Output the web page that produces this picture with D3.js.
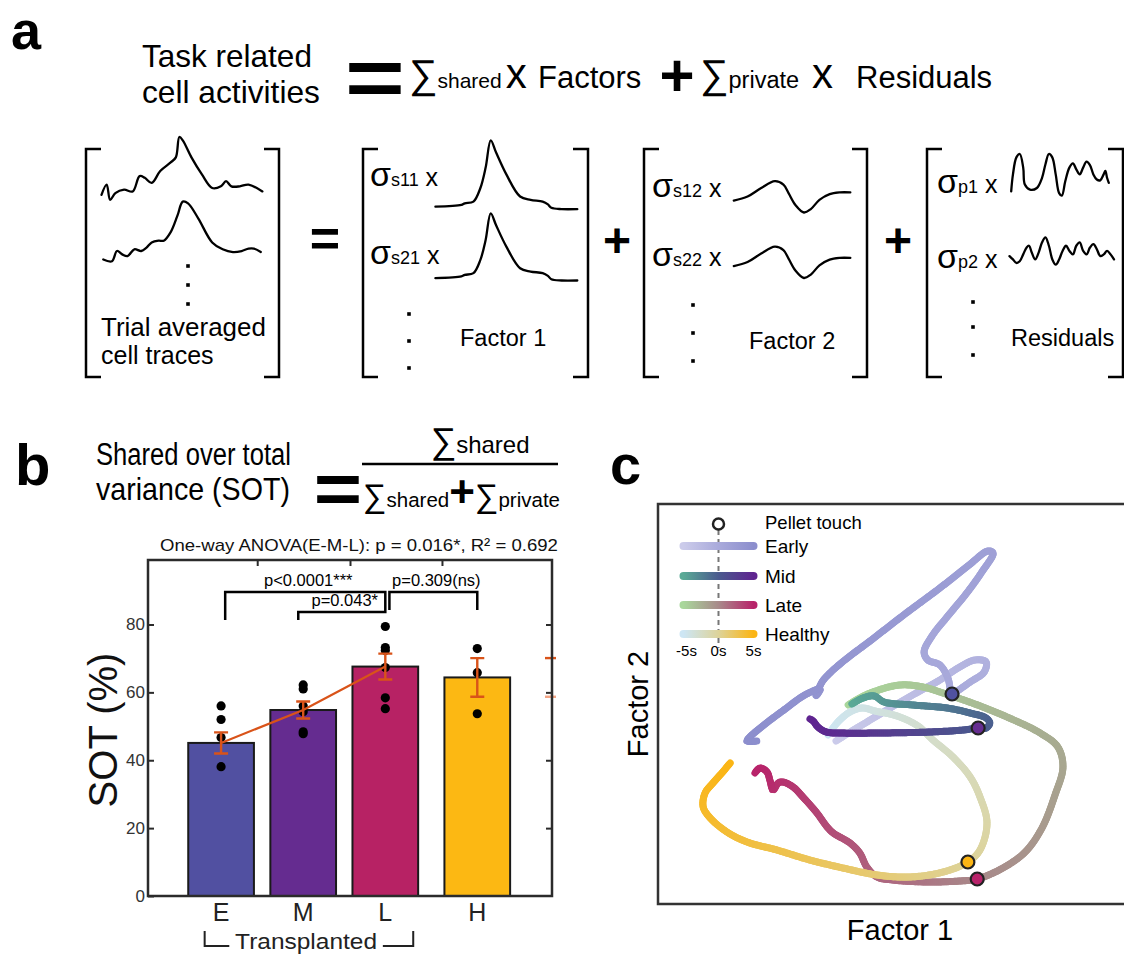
<!DOCTYPE html>
<html>
<head>
<meta charset="utf-8">
<script src="https://cdn.jsdelivr.net/npm/d3@7"></script>
<style>
  body { margin: 0; background: #fff; }
  svg { display: block; }
</style>
</head>
<body>
<div id="figure"></div>
<script>
// ---------- panel a : example traces (time 0-100, activity 0-10) ----------
const cellTrace1 = [[0,0.81],[3.2,2.43],[5.4,0],[8.6,1.08],[14,1.62],[19.4,1.35],[23.7,3.78],[26.9,3.51],[31.2,2.7],[36.5,4.59],[43,5.95],[46.2,6.76],[48.4,10],[50.5,9.46],[55.9,6.76],[62.4,4.05],[68.8,1.89],[74.2,2.16],[77.4,2.97],[80.7,2.16],[86,2.16],[91.4,2.43],[100,1.35]];
const cellTrace2 = [[1.1,0.29],[6.5,0],[9.6,1.71],[12.9,1.14],[16.2,0.86],[20.4,2.0],[24.7,1.71],[28,2.28],[31.2,3.15],[35.5,3.44],[38.7,3.44],[43,4.87],[47.3,7.72],[50.5,10],[53.8,9.71],[60.2,7.15],[68.8,3.15],[75.3,2.0],[81.7,1.54],[87.1,1.71],[91.4,2.11],[94.7,2.11],[99,1.54]];
const factor1Trace = [[0,0.35],[18.3,0.6],[20.7,0.84],[26.8,1.09],[31.7,3.07],[35.4,6.04],[39,10],[42.7,8.27],[50,5.05],[59.7,1.83],[67.1,1.34],[75.6,1.09],[79.3,0.68],[81.7,0.19],[89,0],[100,0]];
const factor2Trace = [[0,3.8],[11.8,5.11],[23.5,7.83],[35.2,10],[42.6,8.91],[47,6.2],[52.9,2.4],[60.2,0],[66.1,1.09],[73.5,4.03],[82.3,5.88],[91.1,6.42],[100,6.42]];
const residual1Trace = [[0,1.2],[1.8,5.2],[5.3,9.2],[8.8,10],[12.3,6.8],[14,2.8],[19.3,1.6],[26.3,2],[31.6,4.4],[35.1,7.6],[38.6,10],[42.1,9.2],[45.6,5.2],[49.1,0.8],[51.9,0.2],[55.4,3.6],[59.6,6.8],[63.2,7.8],[66.7,6.4],[70.2,5.2],[73.7,6.8],[77.2,8.2],[80.7,7.4],[84.2,5.2],[87.7,4],[91.2,3.8],[94.7,5.2],[96.5,6],[98.2,4.4],[100,3.2]];
const residual2Trace = [[0,3.1],[3.3,1.9],[6.6,0.6],[9.8,1.25],[13.1,3.75],[16.4,6.25],[18.7,6.9],[21.3,4.4],[24.6,1.9],[27.9,4.4],[31.1,8.1],[34.4,10],[37.7,6.9],[41,1.9],[44.3,0],[47.5,1.9],[50.8,5],[54.1,6.9],[57.4,5],[60.7,3.75],[63.9,6.9],[67.2,8.1],[70.5,5],[73.8,3.75],[77,6.25],[80.3,7.5],[83.6,5.6],[86.9,3.1],[90.2,3.75],[93.4,5],[96.7,3.75],[100,1.9]];
const coefLabels = [["s11", "s21"], ["s12", "s22"], ["p1", "p2"]];

// ---------- panel b : shared over total variance ----------
const groups = ["E", "M", "L", "H"];
const groupPos = [1, 2, 3, 4.12];
const sotMean = [45.1, 54.8, 67.6, 64.4];
const sotSem = [3.1, 2.5, 3.8, 5.7];
const sotPoints = [
	[56.0, 52.0, 46.7, 38.1],
	[62.2, 61.0, 56.0, 54.3, 48.4, 47.8],
	[79.4, 73.2, 72.3, 67.3, 58.4, 55.2],
	[72.9, 65.8, 53.7]
];
const groupColors = ["#5150a1", "#652c90", "#b72264", "#fcb813"];
const yTicks = [0, 20, 40, 60, 80];
const topTicks = [1.44, 2.57, 3.69];
const sigTests = [
	{ x1: 1.05, x2: 3.0, top: 89.6, y1: 81.3, y2: 86.0, label: "p<0.0001***" },
	{ x1: 1.94, x2: 3.0, top: 83.7, y1: 81.3, y2: 86.0, label: "p=0.043*" },
	{ x1: 3.05, x2: 4.12, top: 89.6, y1: 84.3, y2: 84.3, label: "p=0.309(ns)" }
];

// ---------- panel c : factor trajectories [factor 1, factor 2] ----------
const earlyTraj = [[38.2,40.75],[41.6,43.25],[45.9,46.25],[50.9,49.75],[55.8,53],[60.5,56],[64.4,59],[68,61],[70.4,60.5],[70,58],[67,55.5],[63.9,53],[63.1,52.5],[62.2,56.5],[60.5,59.75],[57.9,61],[57.1,63],[58.8,67],[62.2,72],[66.1,77.5],[69.5,83],[71.9,87.75],[70.8,88.25],[66.5,84.5],[60.5,79],[53,72.5],[45.5,65.75],[40.1,61],[36.9,57.75],[35.2,55.5],[33.9,52],[34.8,53.75],[31.5,52.25],[27.3,48.75],[23,45],[19.7,41.75],[19.1,40.75],[21.2,40.75]];
const midTraj = [[41.6,50],[44,51.5],[46.4,52],[48.5,50.5],[54.7,49.75],[62,49],[67,47.75],[70.4,46.5],[71.2,45.25],[70.4,44],[68.7,44],[65.5,43.5],[58.4,43],[47.6,42.75],[39.1,42.75],[36.1,43],[34.3,44.25],[33.3,45.75],[32.6,46.25]];
const lateTraj = [[40.8,49.75],[43.3,51.5],[46.1,53],[51.9,54.75],[56.9,54.25],[60.5,53],[63.1,52],[68,50],[74.9,46.75],[82,42.75],[85.8,39.25],[86.9,34.25],[85.2,27.25],[82.4,19],[78.8,13],[74,9],[68.5,6.25],[64.8,5.75],[57.7,5.5],[50.4,6],[47,6.75],[44.8,9.25],[43.3,12.75],[41.2,15.25],[37.6,17.75],[36.3,19.25],[34.1,22.75],[31.1,26.75],[29,29.25],[26.8,30.5],[25.8,30.25],[24.7,28.5],[24,31],[23.4,33],[21.9,34],[20.8,32.75]];
const healthyTraj = [[36.5,42.25],[38.6,45.5],[41.2,48],[43.8,49],[46.6,48.25],[51.3,47],[55.8,44.5],[59,41],[63.3,36.75],[67,31.75],[69.1,26.75],[70.6,20.25],[69.1,13.5],[66.5,10.5],[61.2,8],[54.1,6.75],[47,7.25],[39.7,9],[32.6,11],[25.5,13.5],[19.1,15.5],[14.8,18],[11.2,21.5],[9.7,24.25],[10.1,27.75],[11.8,30.25],[13.7,32.75],[15.5,35.25]];
const conditions = ["Early", "Mid", "Late", "Healthy"];
const trajectories = [earlyTraj, midTraj, lateTraj, healthyTraj];
const touchIndex = [12, 10, 16, 13];
// colours at -5 s, 0 s, 5 s
const condGradients = [
	["#cbcbea", "#a9aadb", "#8c8ecd"],
	["#5aaa96", "#4a5a8e", "#5f2490"],
	["#a9d79b", "#a88a8a", "#b8236a"],
	["#cde6f4", "#ddd39a", "#fbb514"]
];
const touchColors = ["#5052a0", "#662d91", "#b8236a", "#fbb514"];
const timeTicks = [-5, 0, 5];

const FONT = "'Liberation Sans', Arial, Helvetica, sans-serif";
const width = 1124;
const height = 954;

const svg = d3.select("#figure")
	.append("svg")
	.attr("width", width)
	.attr("height", height)
	.attr("viewBox", [0, 0, width, height])
	.style("font-family", FONT);

// text helper; opts.len squeezes the text horizontally to a given width
function txt(g, x, y, str, size, opts = {}) {
	const t = g.append("text")
		.attr("x", x)
		.attr("y", y)
		.attr("font-size", size)
		.attr("font-weight", opts.bold ? "bold" : null)
		.attr("text-anchor", opts.anchor || "start")
		.attr("fill", opts.fill || "#000")
		.text(str);
	if (opts.len) {
		const k = opts.len / t.node().getComputedTextLength();
		t.attr("x", null).attr("y", null)
			.attr("transform", `translate(${x},${y}) scale(${k},1)`);
	}
	return t;
}

// sum-symbol with small subscript word
function sumTerm(t, word, sumSize, wordSize) {
	t.append("tspan").attr("font-size", sumSize).text("\u2211");
	t.append("tspan").attr("font-size", wordSize).text(word);
}

// ================= panel a =================
const ga = svg.append("g");
txt(ga, 11, 49, "a", 54, { bold: true });
txt(ga, 142, 67, "Task related", 31, { len: 170 });
txt(ga, 142, 103, "cell activities", 31, { len: 178 });
ga.append("text")
	.attr("transform", "translate(375,106) scale(1.25,1)")
	.attr("text-anchor", "middle")
	.attr("font-size", 82)
	.attr("font-weight", "bold")
	.text("=");
{
	const t = ga.append("text").attr("x", 409).attr("y", 88);
	sumTerm(t, "shared", 40, 21);
	t.append("tspan").attr("font-size", 42).attr("dx", 4).text("x");
	t.append("tspan").attr("font-size", 31).attr("x", 538).text("Factors");
}
txt(ga, 677, 96, "+", 60, { bold: true, anchor: "middle" });
{
	const t = ga.append("text").attr("x", 700).attr("y", 88);
	sumTerm(t, "private", 40, 23.5);
	t.append("tspan").attr("font-size", 42).attr("x", 812).text("x");
	t.append("tspan").attr("font-size", 31).attr("x", 856).text("Residuals");
}

function matrixBrackets(x0, x1) {
	const top = 149, bottom = 377, serif = 15;
	ga.append("path")
		.attr("d", `M${x0 + serif},${top}H${x0}V${bottom}H${x0 + serif}M${x1 - serif},${top}H${x1}V${bottom}H${x1 - serif}`)
		.attr("fill", "none")
		.attr("stroke", "#000")
		.attr("stroke-width", 2.5);
}
matrixBrackets(86, 279);
matrixBrackets(363, 588);
matrixBrackets(644, 867);
matrixBrackets(927, 1123);

function drawTrace(data, x0, x1, yBase, yTop) {
	const x = d3.scaleLinear().domain([0, 100]).range([x0, x1]);
	const y = d3.scaleLinear().domain([0, 10]).range([yBase, yTop]);
	const line = d3.line()
		.x(d => x(d[0]))
		.y(d => y(d[1]))
		.curve(d3.curveCatmullRom.alpha(0.5));
	ga.append("path")
		.datum(data)
		.attr("fill", "none")
		.attr("stroke", "#000")
		.attr("stroke-width", 2.3)
		.attr("stroke-linejoin", "round")
		.attr("stroke-linecap", "round")
		.attr("d", line);
}
drawTrace(cellTrace1, 101.5, 262.4, 199.9, 137);
drawTrace(cellTrace2, 101.5, 262.4, 261.2, 201.6);
drawTrace(factor1Trace, 435.4, 577.3, 209.1, 140.4);
drawTrace(factor1Trace, 435.4, 577.3, 280.5, 213.4);
drawTrace(factor2Trace, 733.8, 850.3, 212.5, 181.2);
drawTrace(factor2Trace, 733.8, 850.3, 278, 246.7);
drawTrace(residual1Trace, 1011.2, 1108.8, 196.5, 154);
drawTrace(residual2Trace, 1009.5, 1114, 264.6, 237.3);

function vdots(x, ys) {
	ga.selectAll(null)
		.data(ys)
		.join("rect")
		.attr("x", x - 1.8)
		.attr("y", d => d - 1.8)
		.attr("width", 3.6)
		.attr("height", 3.6)
		.attr("fill", "#000");
}
vdots(188, [266, 285, 304]);
vdots(409, [314, 341, 368]);
vdots(693, [305, 333, 361]);
vdots(973, [302, 327, 355]);

function coef(x, y, sub) {
	const t = ga.append("text").attr("x", x).attr("y", y);
	t.append("tspan").attr("font-size", 34).text("\u03c3");
	t.append("tspan").attr("font-size", 18).text(sub);
	t.append("tspan").attr("font-size", 25).text(" x");
}
coef(370, 186, coefLabels[0][0]);
coef(370, 264, coefLabels[0][1]);
coef(652, 197, coefLabels[1][0]);
coef(652, 266, coefLabels[1][1]);
coef(937, 193, coefLabels[2][0]);
coef(937, 268, coefLabels[2][1]);

txt(ga, 325, 256, "=", 52, { bold: true, anchor: "middle" });
txt(ga, 617, 257, "+", 48, { bold: true, anchor: "middle" });
txt(ga, 898, 257, "+", 48, { bold: true, anchor: "middle" });

txt(ga, 101, 336, "Trial averaged", 25, { len: 165 });
txt(ga, 101, 364, "cell traces", 25);
txt(ga, 460, 346, "Factor 1", 23.5);
txt(ga, 749, 349, "Factor 2", 23.5);
txt(ga, 1011, 346, "Residuals", 23.5);

// ================= panel b =================
const gb = svg.append("g");
txt(gb, 15, 485, "b", 58, { bold: true });
txt(gb, 96, 465, "Shared over total", 31, { len: 195 });
txt(gb, 96, 500, "variance (SOT)", 31, { len: 194 });
gb.append("text")
	.attr("transform", "translate(338,513) scale(1.15,1)")
	.attr("text-anchor", "middle")
	.attr("font-size", 72)
	.attr("font-weight", "bold")
	.text("=");
{
	const t = gb.append("text").attr("x", 480).attr("y", 453).attr("text-anchor", "middle");
	sumTerm(t, "shared", 36, 24);
}
gb.append("line")
	.attr("x1", 362).attr("x2", 558)
	.attr("y1", 464).attr("y2", 464)
	.attr("stroke", "#000").attr("stroke-width", 2.5);
{
	const t = gb.append("text").attr("x", 363).attr("y", 507);
	sumTerm(t, "shared", 33, 20.5);
	t.append("tspan").attr("font-size", 44).attr("font-weight", "bold").text("+");
	sumTerm(t, "private", 33, 20.5);
}
txt(gb, 160, 551, "One-way ANOVA(E-M-L): p = 0.016*, R\u00b2 = 0.692", 17, { fill: "#111", len: 398 });

const margin = { top: 560, right: 552, bottom: 896, left: 148 };
const xb = d3.scaleLinear().domain([0.11, 5.03]).range([margin.left, margin.right]);
const yb = d3.scaleLinear().domain([0, 99]).range([margin.bottom, margin.top]);

// bars
gb.append("g")
	.selectAll("rect")
	.data(groups)
	.join("rect")
	.attr("x", (d, i) => xb(groupPos[i] - 0.4))
	.attr("width", xb(0.8) - xb(0))
	.attr("y", (d, i) => yb(sotMean[i]))
	.attr("height", (d, i) => yb(0) - yb(sotMean[i]))
	.attr("fill", (d, i) => groupColors[i])
	.attr("stroke", "#1a1a1a")
	.attr("stroke-width", 2);

// individual points
gb.append("g")
	.selectAll("circle")
	.data(sotPoints.flatMap((vals, i) => vals.map(v => ({ x: groupPos[i], v }))))
	.join("circle")
	.attr("cx", d => xb(d.x))
	.attr("cy", d => yb(d.v))
	.attr("r", 4.6)
	.attr("fill", "#000");

// mean line (transplanted groups) and error bars
const orange = "#d95319";
gb.append("path")
	.datum(d3.range(3))
	.attr("fill", "none")
	.attr("stroke", orange)
	.attr("stroke-width", 2.2)
	.attr("d", d3.line().x(i => xb(groupPos[i])).y(i => yb(sotMean[i])));
const err = gb.append("g").attr("stroke", orange).attr("stroke-width", 2.4).attr("fill", "none");
err.selectAll("path")
	.data(groups)
	.join("path")
	.attr("d", (d, i) => {
		const x = xb(groupPos[i]), lo = yb(sotMean[i] - sotSem[i]), hi = yb(sotMean[i] + sotSem[i]);
		return `M${x - 7},${hi}H${x + 7}M${x},${hi}V${lo}M${x - 7},${lo}H${x + 7}`;
	});
// stray caps at the right edge of the axes
err.append("line")
	.attr("x1", margin.right - 7).attr("x2", margin.right + 4)
	.attr("y1", yb(sotMean[3] + sotSem[3])).attr("y2", yb(sotMean[3] + sotSem[3]));
err.append("line")
	.attr("x1", margin.right - 7).attr("x2", margin.right + 4)
	.attr("y1", yb(sotMean[3] - sotSem[3])).attr("y2", yb(sotMean[3] - sotSem[3]))
	.attr("stroke", "#f2a585");

// axes box and ticks
const axisColor = "#2b2b2b";
gb.append("rect")
	.attr("x", margin.left).attr("y", margin.top)
	.attr("width", margin.right - margin.left).attr("height", margin.bottom - margin.top)
	.attr("fill", "none").attr("stroke", axisColor).attr("stroke-width", 2.5);
gb.append("g")
	.attr("transform", `translate(${margin.left},0)`)
	.style("color", axisColor)
	.call(d3.axisLeft(yb).tickValues(yTicks).tickSize(-6).tickPadding(3))
	.call(g => g.select(".domain").remove())
	.call(g => g.selectAll(".tick line").attr("stroke-width", 2))
	.call(g => g.selectAll("text").attr("font-size", 17).attr("font-family", FONT).attr("fill", "#333"));
gb.append("g")
	.attr("transform", `translate(${margin.right},0)`)
	.style("color", axisColor)
	.call(d3.axisRight(yb).tickValues(yTicks.slice(1)).tickSize(-6).tickFormat(""))
	.call(g => g.select(".domain").remove())
	.call(g => g.selectAll(".tick line").attr("stroke-width", 2));
gb.append("g")
	.attr("transform", `translate(0,${margin.top})`)
	.style("color", axisColor)
	.call(d3.axisTop(xb).tickValues(topTicks).tickSize(-6).tickFormat(""))
	.call(g => g.select(".domain").remove())
	.call(g => g.selectAll(".tick line").attr("stroke-width", 2));

// group labels
gb.append("g")
	.selectAll("text")
	.data(groups)
	.join("text")
	.attr("x", (d, i) => xb(groupPos[i]))
	.attr("y", 921)
	.attr("text-anchor", "middle")
	.attr("font-size", 25)
	.attr("fill", "#222")
	.text(d => d);
gb.append("path")
	.attr("d", `M${xb(0.8)},931V946H${xb(1.1)}M${xb(2.97)},946H${xb(3.34)}V931`)
	.attr("fill", "none").attr("stroke", "#222").attr("stroke-width", 2);
txt(gb, (xb(1.1) + xb(2.97)) / 2, 949, "Transplanted", 22.5, { anchor: "middle", fill: "#222", len: 142 });

gb.append("text")
	.attr("transform", `translate(117,${(margin.top + margin.bottom) / 2 + 2}) rotate(-90)`)
	.attr("text-anchor", "middle")
	.attr("font-size", 40)
	.attr("fill", "#111")
	.text("SOT (%)");

// significance brackets
const sig = gb.append("g");
sig.selectAll("path")
	.data(sigTests)
	.join("path")
	.attr("d", d => `M${xb(d.x1)},${yb(d.y1)}V${yb(d.top)}H${xb(d.x2)}V${yb(d.y2)}`)
	.attr("fill", "none")
	.attr("stroke", "#000")
	.attr("stroke-width", 2.5);
sig.selectAll("text")
	.data(sigTests)
	.join("text")
	.attr("x", d => (xb(d.x1) + xb(d.x2)) / 2 + 3)
	.attr("y", d => yb(d.top) - 6)
	.attr("text-anchor", "middle")
	.attr("font-size", 16.5)
	.text(d => d.label);

// ================= panel c =================
const gc = svg.append("g");
txt(gc, 610, 484, "c", 56, { bold: true });
const box = { left: 658, right: 1124, top: 504, bottom: 904 };
const fx = d3.scaleLinear().domain([0, 100]).range([box.left, box.right]);
const fy = d3.scaleLinear().domain([0, 100]).range([box.bottom, box.top]);

gc.append("path")
	.attr("d", `M${box.right},${box.top}H${box.left}V${box.bottom}H${box.right}`)
	.attr("fill", "none").attr("stroke", "#333").attr("stroke-width", 2.5);
txt(gc, 900, 940, "Factor 1", 29, { anchor: "middle" });
gc.append("text")
	.attr("transform", `translate(648,${(box.top + box.bottom) / 2}) rotate(-90)`)
	.attr("text-anchor", "middle")
	.attr("font-size", 29)
	.text("Factor 2");

function drawTrajectory(data, touch, colors) {
	const g = gc.append("g");
	const line = d3.line()
		.x(d => fx(d[0]))
		.y(d => fy(d[1]))
		.curve(d3.curveCatmullRom.alpha(0.5));
	const full = g.append("path").attr("d", line(data)).attr("fill", "none");
	const pre = g.append("path").attr("d", line(data.slice(0, touch + 1))).attr("fill", "none");
	const L = full.node().getTotalLength();
	const Lt = pre.node().getTotalLength();
	const color = d3.scaleLinear().domain(timeTicks).range(colors);
	const n = Math.ceil(L / 2);
	const pts = d3.range(n + 1).map(i => {
		const s = L * i / n;
		const p = full.node().getPointAtLength(s);
		return { x: p.x, y: p.y, t: s < Lt ? -5 + 5 * s / Lt : 5 * (s - Lt) / (L - Lt) };
	});
	full.remove();
	pre.remove();
	g.selectAll("line")
		.data(d3.pairs(pts))
		.join("line")
		.attr("x1", d => d[0].x).attr("y1", d => d[0].y)
		.attr("x2", d => d[1].x).attr("y2", d => d[1].y)
		.attr("stroke", d => color((d[0].t + d[1].t) / 2))
		.attr("stroke-width", 7)
		.attr("stroke-linecap", "round");
}
// draw order: early, late, healthy, mid
[0, 2, 3, 1].forEach(i => drawTrajectory(trajectories[i], touchIndex[i], condGradients[i]));

gc.append("g")
	.selectAll("circle")
	.data(conditions)
	.join("circle")
	.attr("cx", (d, i) => fx(trajectories[i][touchIndex[i]][0]))
	.attr("cy", (d, i) => fy(trajectories[i][touchIndex[i]][1]))
	.attr("r", 6.5)
	.attr("fill", (d, i) => touchColors[i])
	.attr("stroke", "#222")
	.attr("stroke-width", 2.2);

// legend
const tx = d3.scaleLinear().domain([-5, 5]).range([683.5, 753.5]);
const defs = svg.append("defs");
const legendY = [546, 576, 605, 634];
gc.append("line")
	.attr("x1", tx(0)).attr("x2", tx(0))
	.attr("y1", 530).attr("y2", 648)
	.attr("stroke", "#777").attr("stroke-width", 2).attr("stroke-dasharray", "5,4");
conditions.forEach((c, i) => {
	const grad = defs.append("linearGradient")
		.attr("id", "grad" + i)
		.attr("gradientUnits", "userSpaceOnUse")
		.attr("x1", tx(-5)).attr("x2", tx(5)).attr("y1", 0).attr("y2", 0);
	grad.selectAll("stop")
		.data(timeTicks)
		.join("stop")
		.attr("offset", (d, k) => k / 2)
		.attr("stop-color", (d, k) => condGradients[i][k]);
	gc.append("line")
		.attr("x1", tx(-5)).attr("x2", tx(5))
		.attr("y1", legendY[i]).attr("y2", legendY[i] + 0.01)
		.attr("stroke", `url(#grad${i})`)
		.attr("stroke-width", 8)
		.attr("stroke-linecap", "round");
	txt(gc, 765, legendY[i] + 7, c, 19);
});
gc.append("circle")
	.attr("cx", tx(0)).attr("cy", 524).attr("r", 5.5)
	.attr("fill", "#fff").attr("stroke", "#222").attr("stroke-width", 2.5);
txt(gc, 765, 529, "Pellet touch", 18.5);
gc.selectAll(null)
	.data(timeTicks)
	.join("text")
	.attr("x", d => tx(d) + (d < 0 ? 3 : 0))
	.attr("y", 656)
	.attr("text-anchor", "middle")
	.attr("font-size", 15)
	.text(d => d + "s");
</script>
</body>
</html>
